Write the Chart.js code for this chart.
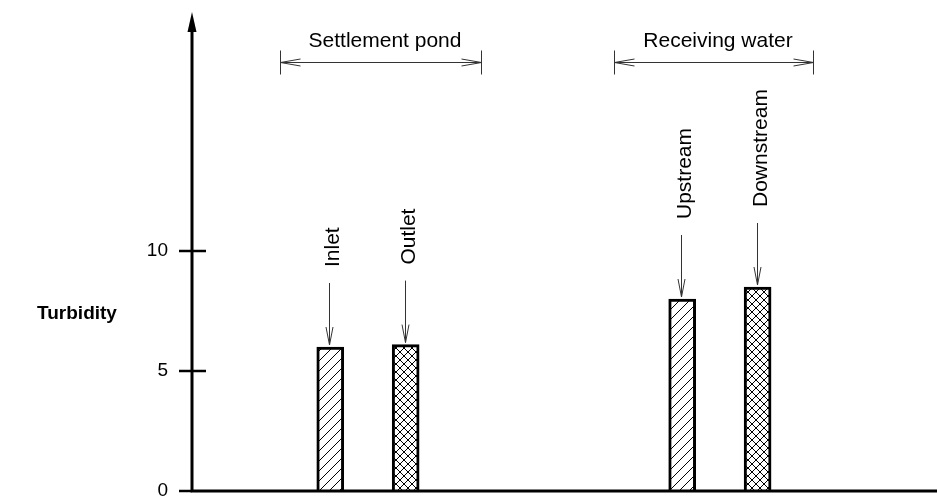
<!DOCTYPE html>
<html>
<head>
<meta charset="utf-8">
<script src="https://cdn.jsdelivr.net/npm/chart.js@4.4.0/dist/chart.umd.min.js"></script>
<style>
html, body { margin: 0; padding: 0; background: #fff; }
</style>
</head>
<body>
<canvas id="chart" width="937" height="498"></canvas>
<script>
// data
const categories = ['Inlet', 'Outlet', 'Upstream', 'Downstream'];
const turbidity = [6.0, 6.1, 8.0, 8.5];
const groupNames = ['Settlement pond', 'Receiving water'];
const yTicks = [0, 5, 10];
const yLabel = 'Turbidity';

// layout: the x axis is cut into equal slots, bars sit in some of them
const SLOTS = 29;
const barSlot = [5, 8, 19, 22];
const groupSpan = [[3.5, 11.5], [16.8, 24.7]];
const fill = ['diag', 'cross', 'diag', 'cross'];
const FONT = '"Liberation Sans", Arial, Helvetica, sans-serif';

const canvas = document.getElementById('chart');
const mainCtx = canvas.getContext('2d');

function makePattern(kind) {
  const c = document.createElement('canvas');
  const s = kind === 'diag' ? 10 : 8;
  c.width = s; c.height = s;
  const g = c.getContext('2d');
  g.fillStyle = '#fff';
  g.fillRect(0, 0, s, s);
  g.strokeStyle = '#000';
  g.lineWidth = 1;
  g.beginPath();
  g.moveTo(0, s); g.lineTo(s, 0);
  g.moveTo(-2, 2); g.lineTo(2, -2);
  g.moveTo(s - 2, s + 2); g.lineTo(s + 2, s - 2);
  if (kind === 'cross') {
    g.moveTo(0, 0); g.lineTo(s, s);
    g.moveTo(-2, s - 2); g.lineTo(2, s + 2);
    g.moveTo(s - 2, -2); g.lineTo(s + 2, 2);
  }
  g.stroke();
  return mainCtx.createPattern(c, 'repeat');
}

const labels = new Array(SLOTS).fill('');
const values = new Array(SLOTS).fill(null);
const colors = new Array(SLOTS).fill('#fff');
categories.forEach((name, i) => {
  labels[barSlot[i]] = name;
  values[barSlot[i]] = turbidity[i];
  colors[barSlot[i]] = makePattern(fill[i]);
});

function vHead(ctx, x, y, dx, dy, len, half) {
  // open arrow head pointing along (dx, dy) with tip at (x, y)
  const px = -dy, py = dx;
  ctx.beginPath();
  ctx.moveTo(x - dx * len + px * half, y - dy * len + py * half);
  ctx.lineTo(x, y);
  ctx.lineTo(x - dx * len - px * half, y - dy * len - py * half);
  ctx.stroke();
}

const decorations = {
  id: 'decorations',
  afterDraw(chart) {
    const ctx = chart.ctx;
    const area = chart.chartArea;
    const yScale = chart.scales.y;
    const slotW = (area.right - area.left) / SLOTS;
    ctx.save();

    // axes
    ctx.strokeStyle = '#000';
    ctx.fillStyle = '#000';
    ctx.lineWidth = 3;
    ctx.beginPath();
    ctx.moveTo(area.left - 1.5, area.bottom);
    ctx.lineTo(chart.width, area.bottom);
    ctx.moveTo(area.left, area.bottom);
    ctx.lineTo(area.left, area.top + 16);
    ctx.stroke();
    ctx.beginPath();
    ctx.moveTo(area.left, area.top + 1);
    ctx.lineTo(area.left - 4.5, area.top + 21);
    ctx.lineTo(area.left + 4.5, area.top + 21);
    ctx.closePath();
    ctx.fill();

    // tick marks cross the y axis
    ctx.lineWidth = 2.5;
    yTicks.forEach(v => {
      const y = yScale.getPixelForValue(v);
      ctx.beginPath();
      ctx.moveTo(area.left - 13, y);
      ctx.lineTo(area.left + (v === 0 ? 0 : 14), y);
      ctx.stroke();
    });

    // bar names with arrows
    const meta = chart.getDatasetMeta(0);
    ctx.lineWidth = 1;
    ctx.strokeStyle = '#333';
    ctx.font = '21px ' + FONT;
    ctx.fillStyle = '#000';
    barSlot.forEach((slot, i) => {
      const bar = meta.data[slot];
      const x = Math.round(bar.x) - 0.5;
      const top = bar.y;
      ctx.beginPath();
      ctx.moveTo(x, top - 64);
      ctx.lineTo(x, top - 2);
      ctx.stroke();
      vHead(ctx, x, top - 2, 0, 1, 18, 3.5);
      ctx.save();
      ctx.translate(x + 9, top - 80);
      ctx.rotate(-Math.PI / 2);
      ctx.textAlign = 'left';
      ctx.textBaseline = 'alphabetic';
      ctx.fillText(categories[i], 0, 0);
      ctx.restore();
    });

    // group brackets
    groupSpan.forEach((span, i) => {
      const x1 = Math.round(area.left + span[0] * slotW) + 0.5;
      const x2 = Math.round(area.left + span[1] * slotW) + 0.5;
      const y = 62.5;
      ctx.beginPath();
      ctx.moveTo(x1, y); ctx.lineTo(x2, y);
      ctx.moveTo(x1, y - 12); ctx.lineTo(x1, y + 12);
      ctx.moveTo(x2, y - 12); ctx.lineTo(x2, y + 12);
      ctx.stroke();
      vHead(ctx, x1, y, -1, 0, 20, 3.5);
      vHead(ctx, x2, y, 1, 0, 20, 3.5);
      ctx.textAlign = 'center';
      ctx.textBaseline = 'alphabetic';
      ctx.fillText(groupNames[i], (x1 + x2) / 2 + 4, 47);
    });

    // axis name, written horizontally
    ctx.font = 'bold 19px ' + FONT;
    ctx.textAlign = 'center';
    ctx.textBaseline = 'middle';
    ctx.fillText(yLabel, area.left - 115, yScale.getPixelForValue(7.4));
    ctx.restore();
  }
};

new Chart(canvas, {
  type: 'bar',
  data: {
    labels: labels,
    datasets: [{
      data: values,
      backgroundColor: colors,
      borderColor: '#000',
      borderWidth: 3,
      borderSkipped: 'start',
      barThickness: 27
    }]
  },
  options: {
    responsive: false,
    animation: false,
    events: [],
    layout: { padding: { top: 11, right: 16, bottom: 7, left: 0 } },
    plugins: { legend: { display: false }, tooltip: { enabled: false } },
    scales: {
      x: {
        type: 'category',
        display: false,
        offset: true,
        grid: { display: false }
      },
      y: {
        min: 0,
        max: 20,
        border: { display: false },
        grid: { drawOnChartArea: false, drawTicks: true, tickLength: 24, color: 'rgba(0,0,0,0)' },
        ticks: {
          stepSize: 5,
          padding: 0,
          color: '#000',
          font: { size: 19, family: FONT },
          callback: v => yTicks.includes(v) ? v : ''
        },
        afterFit: s => { s.width = 192; s.paddingTop = 0; s.paddingBottom = 0; }
      }
    }
  },
  plugins: [decorations]
});
</script>
</body>
</html>
